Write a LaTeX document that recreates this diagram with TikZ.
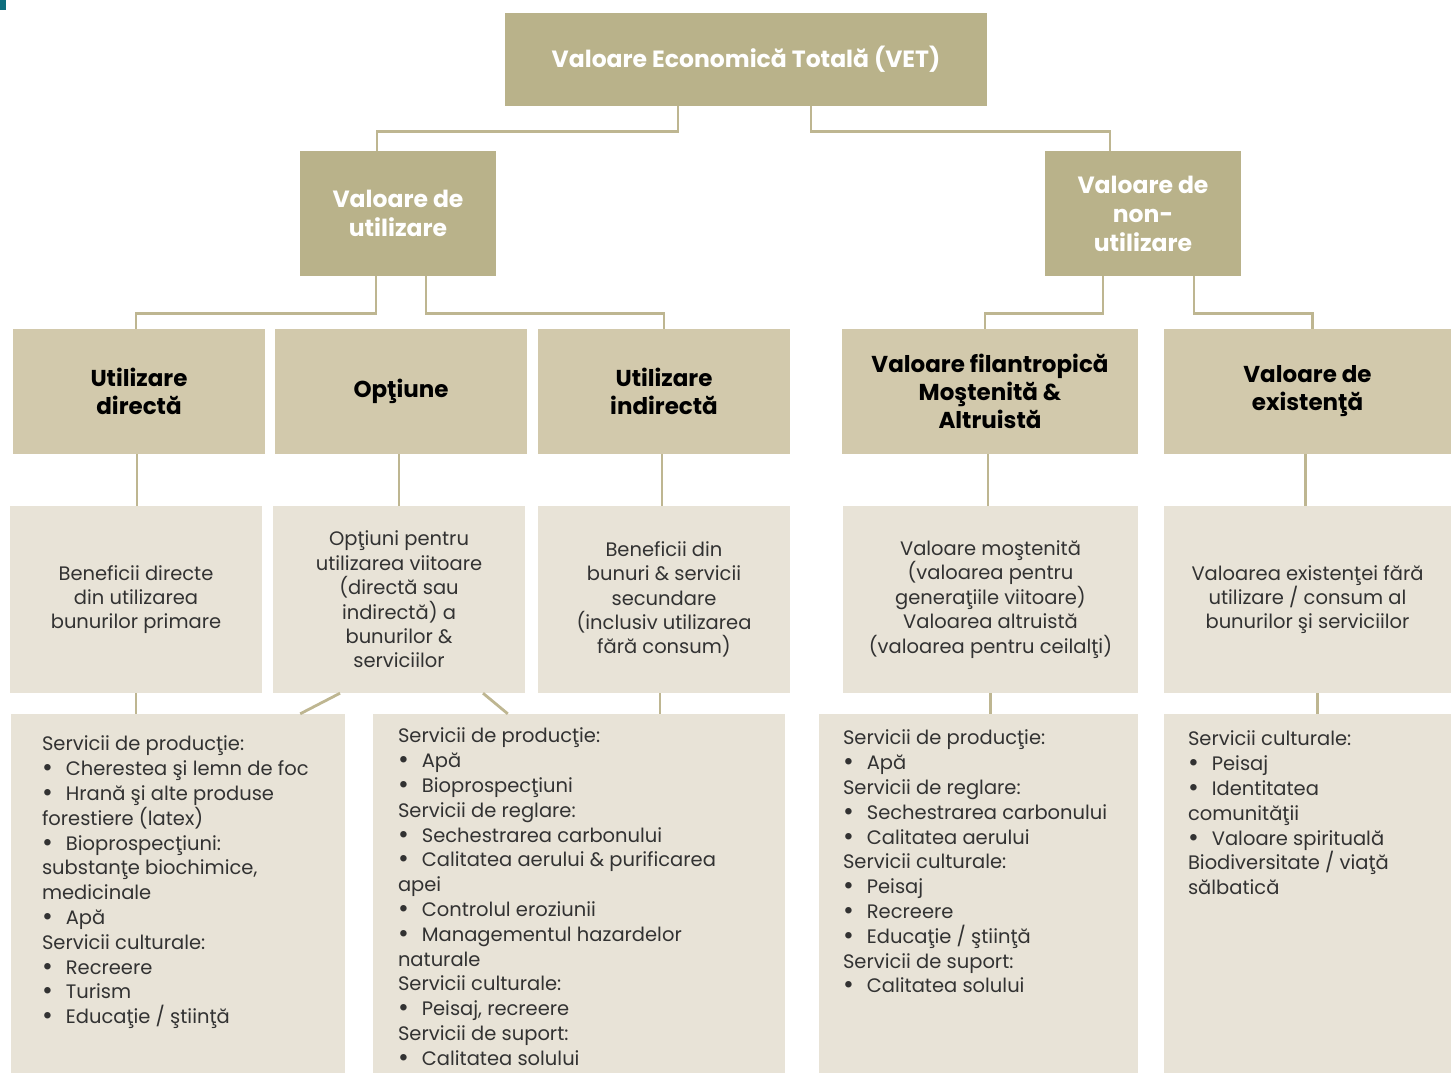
\documentclass[tikz,border=0pt]{standalone}
\usepackage{fontspec}
\setmainfont{Poppins}
\definecolor{khakidark}{RGB}{185,178,138}
\definecolor{khakimid}{RGB}{210,201,172}
\definecolor{khakilight}{RGB}{232,227,215}
\definecolor{linecol}{RGB}{190,182,145}
\definecolor{textgray}{RGB}{50,50,50}
\definecolor{tealmark}{RGB}{14,110,126}
\newcommand{\blt}{\raisebox{-1pt}{\scalebox{1.35}{\textbullet}}\hspace{13pt}}

\begin{document}
\begin{tikzpicture}[x=1pt,y=-1pt,
	head/.style={fill=khakidark, text=white, font=\bfseries\fontsize{23.5}{29}\selectfont, align=center, inner sep=0pt},
	kind/.style={fill=khakimid, text=black, font=\bfseries\fontsize{23}{28}\selectfont, align=center, inner sep=0pt, minimum height=125pt},
	about/.style={fill=khakilight, text=textgray, font=\fontsize{19.5}{24.4}\selectfont, align=center, inner sep=0pt, minimum height=187pt},
	serv/.style={fill=khakilight, inner sep=0pt, minimum height=359pt},
	servtext/.style={text=textgray, font=\fontsize{19.5}{24.8}\selectfont, align=left, anchor=north west, inner sep=0pt},
	link/.style={draw=linecol, line width=2.8pt}]
			%%%	Help Lines
%			\draw [thin, help lines, step=50] (0,0) grid (1451,1073);
			\useasboundingbox (0,0) rectangle (1451,1073);
			\fill[tealmark] (0,0) rectangle (6,10);
			%%%	Livelli
			\node[head, minimum width=482pt, minimum height=93pt] (vet) at (746,59.5) {\raisebox{5pt}{Valoare Economică Totală (VET)}};
			\node[head, minimum width=196pt, minimum height=125pt] (use) at (398,213.5) {Valoare de\\utilizare};
			\node[head, minimum width=196pt, minimum height=125pt] (nonuse) at (1143,213.5) {Valoare de\\non-\\utilizare};
			%	tipuri
			\node[kind, minimum width=252pt] (direct) at (139,391.5) {Utilizare\\directă};
			\node[kind, minimum width=252pt] (option) at (401,391.5) {Opţiune};
			\node[kind, minimum width=252pt] (indirect) at (664,391.5) {Utilizare\\indirectă};
			\node[kind, minimum width=296pt] (bequest) at (990,391.5) {Valoare filantropică\\Moştenită \&\\Altruistă};
			\node[kind, minimum width=287pt] (exist) at (1307.5,391.5) {Valoare de\\existenţă};
			%	descrieri
			\node[about, minimum width=252pt] (bdirect) at (136,599.5) {Beneficii directe\\din utilizarea\\bunurilor primare};
			\node[about, minimum width=252pt] (boption) at (399,599.5) {Opţiuni pentru\\utilizarea viitoare\\(directă sau\\indirectă) a\\bunurilor \&\\serviciilor};
			\node[about, minimum width=252pt] (bindirect) at (664,599.5) {Beneficii din\\bunuri \& servicii\\secundare\\(inclusiv utilizarea\\fără consum)};
			\node[about, minimum width=295pt] (bbequest) at (990.5,599.5) {Valoare moştenită\\(valoarea pentru\\generaţiile viitoare)\\Valoarea altruistă\\(valoarea pentru ceilalţi)};
			\node[about, minimum width=287pt] (bexist) at (1307.5,599.5) {Valoarea existenţei fără\\utilizare / consum al\\bunurilor şi serviciilor};
			%	servicii
			\node[serv, minimum width=334pt] (sdirect) at (178,893.5) {};
			\node[serv, minimum width=412pt] (sindirect) at (579,893.5) {};
			\node[serv, minimum width=319pt] (sbequest) at (978.5,893.5) {};
			\node[serv, minimum width=287pt] (sexist) at (1307.5,893.5) {};
			\node[servtext] (tdirect) at ([shift={(31,22)}]sdirect.north west) {Servicii de producţie:\\\blt Cherestea şi lemn de foc\\\blt Hrană şi alte produse\\forestiere (latex)\\\blt Bioprospecţiuni:\\substanţe biochimice,\\medicinale\\\blt Apă\\Servicii culturale:\\\blt Recreere\\\blt Turism\\\blt Educaţie / ştiinţă};
			\node[servtext] (tindirect) at ([shift={(25,14)}]sindirect.north west) {Servicii de producţie:\\\blt Apă\\\blt Bioprospecţiuni\\Servicii de reglare:\\\blt Sechestrarea carbonului\\\blt Calitatea aerului \& purificarea\\apei\\\blt Controlul eroziunii\\\blt Managementul hazardelor\\naturale\\Servicii culturale:\\\blt Peisaj, recreere\\Servicii de suport:\\\blt Calitatea solului};
			\node[servtext] (tbequest) at ([shift={(24,16)}]sbequest.north west) {Servicii de producţie:\\\blt Apă\\Servicii de reglare:\\\blt Sechestrarea carbonului\\\blt Calitatea aerului\\Servicii culturale:\\\blt Peisaj\\\blt Recreere\\\blt Educaţie / ştiinţă\\Servicii de suport:\\\blt Calitatea solului};
			\node[servtext] (texist) at ([shift={(24,17)}]sexist.north west) {Servicii culturale:\\\blt Peisaj\\\blt Identitatea\\comunităţii\\\blt Valoare spirituală\\Biodiversitate / viaţă\\sălbatică};
			%%%	Legaturi
			\draw[link] ([xshift=-68pt]vet.south) -- ++(0,25) -| ([xshift=-21pt]use.north);
			\draw[link] ([xshift=65pt]vet.south) -- ++(0,25) -| ([xshift=-33pt]nonuse.north);
			\draw[link] ([xshift=-22pt]use.south) -- ++(0,37) -| ([xshift=-3pt]direct.north);
			\draw[link] ([xshift=28pt]use.south) -- ++(0,37) -| (indirect.north);
			\draw[link] ([xshift=-40pt]nonuse.south) -- ++(0,37) -| ([xshift=-5pt]bequest.north);
			\draw[link] ([xshift=51pt]nonuse.south) -- ++(0,37) -| ([xshift=5pt]exist.north);
			\foreach \a/\b in {direct/bdirect, option/boption, indirect/bindirect, bequest/bbequest, exist/bexist}
			\draw[link] ([xshift=-2pt]\a.south) -- ([xshift=-2pt]\a.south |- \b.north);
			\draw[link] (bdirect.south) -- (bdirect.south |- sdirect.north);
			\draw[link] ([xshift=-59pt]boption.south) -- ([xshift=-45pt]sdirect.north east);
			\draw[link] ([xshift=84pt]boption.south) -- ([xshift=135pt]sindirect.north west);
			\draw[link] ([xshift=-4pt]bindirect.south) -- ([xshift=-4pt]bindirect.south |- sindirect.north);
			\draw[link] (bbequest.south) -- (bbequest.south |- sbequest.north);
			\draw[link] ([xshift=10pt]bexist.south) -- ([xshift=10pt]bexist.south |- sexist.north);
		\end{tikzpicture}
\end{document}
